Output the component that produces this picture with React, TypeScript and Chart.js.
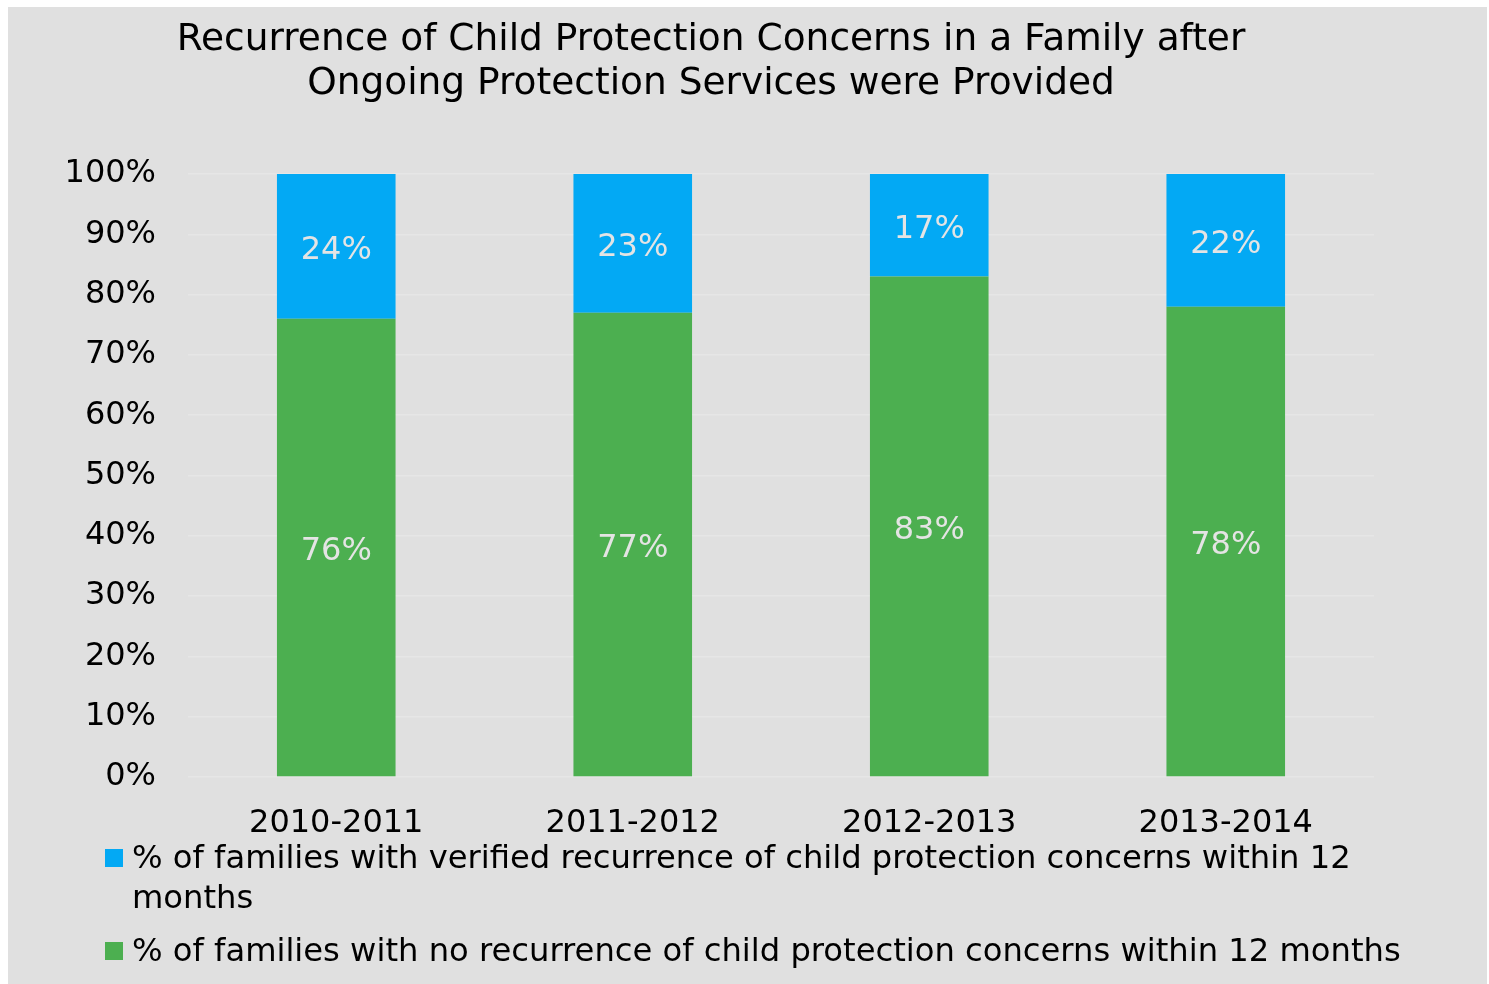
import React, { useEffect, useRef } from "react";
import { Chart, registerables } from "chart.js";

Chart.register(...registerables);

const categories = ["2010-2011", "2011-2012", "2012-2013", "2013-2014"];
const recurrenceValues = [24, 23, 17, 22];
const noRecurrenceValues = [76, 77, 83, 78];
const titleLines = [
  "Recurrence of Child Protection Concerns in a Family after",
  "Ongoing Protection Services were Provided",
];
const recurrenceLabel =
  "% of families with verified recurrence of child protection concerns within 12 months";
const noRecurrenceLabel =
  "% of families with no recurrence of child protection concerns within 12 months";

const BLUE = "#03A9F4";
const GREEN = "#4CAF50";
const BG = "#E0E0E0";
const FONT = '"DejaVu Sans", Verdana, sans-serif';

function wrap(ctx: CanvasRenderingContext2D, text: string, maxWidth: number): string[] {
  const words = text.split(" ");
  const lines: string[] = [];
  let cur = "";
  for (const w of words) {
    const t = cur ? cur + " " + w : w;
    if (ctx.measureText(t).width > maxWidth && cur) {
      lines.push(cur);
      cur = w;
    } else cur = t;
  }
  if (cur) lines.push(cur);
  return lines;
}

const overlayPlugin = {
  id: "overlay",
  afterDatasetsDraw(chart: any) {
    const ctx: CanvasRenderingContext2D = chart.ctx;
    ctx.save();
    ctx.font = `32px ${FONT}`;
    ctx.fillStyle = "#E4E4E4";
    ctx.textAlign = "center";
    ctx.textBaseline = "middle";
    chart.data.datasets.forEach((ds: any, di: number) => {
      const meta = chart.getDatasetMeta(di);
      meta.data.forEach((bar: any, i: number) => {
        const p = bar.getProps(["x", "y", "base"], true);
        ctx.fillText(ds.data[i] + "%", p.x, (p.y + p.base) / 2 + 4);
      });
    });
    ctx.restore();
  },
  afterDraw(chart: any) {
    const ctx: CanvasRenderingContext2D = chart.ctx;
    ctx.save();
    // title
    ctx.font = `37.5px ${FONT}`;
    ctx.fillStyle = "#000";
    ctx.textAlign = "center";
    ctx.textBaseline = "alphabetic";
    ctx.fillText(titleLines[0], 703, 43);
    ctx.fillText(titleLines[1], 703, 87);
    // legend
    ctx.font = `32.2px ${FONT}`;
    ctx.textAlign = "left";
    const items = [
      { text: recurrenceLabel, color: chart.data.datasets[1].backgroundColor, y: 861 },
      { text: noRecurrenceLabel, color: chart.data.datasets[0].backgroundColor, y: 954 },
    ];
    for (const it of items) {
      ctx.fillStyle = it.color;
      ctx.fillRect(97, it.y - 19, 18, 18);
      ctx.fillStyle = "#000";
      const lines = wrap(ctx, it.text, 1300);
      lines.forEach((l, k) => ctx.fillText(l, 124, it.y + k * 40));
    }
    ctx.restore();
  },
};

export default function App() {
  const ref = useRef<HTMLCanvasElement>(null);
  useEffect(() => {
    if (!ref.current) return;
    const chart = new Chart(ref.current, {
      type: "bar",
      data: {
        labels: categories,
        datasets: [
          {
            label: noRecurrenceLabel,
            data: noRecurrenceValues,
            backgroundColor: GREEN,
            categoryPercentage: 1,
            barPercentage: 0.4,
          },
          {
            label: recurrenceLabel,
            data: recurrenceValues,
            backgroundColor: BLUE,
            categoryPercentage: 1,
            barPercentage: 0.4,
          },
        ],
      },
      options: {
        responsive: true,
        maintainAspectRatio: false,
        animation: false,
        layout: { padding: { top: 167, right: 113, bottom: 147, left: 0 } },
        plugins: {
          legend: { display: false },
          title: { display: false },
          tooltip: { enabled: false },
        },
        scales: {
          x: {
            stacked: true,
            grid: { display: false },
            border: { display: false },
            ticks: {
              color: "#000",
              font: { family: FONT, size: 32 },
              padding: 19,
              maxRotation: 0,
            },
            afterFit: (s: any) => {
              s.height = 60;
            },
          },
          y: {
            stacked: true,
            min: 0,
            max: 100,
            grid: { color: "#E6E6E6", drawTicks: false, lineWidth: 1.5 },
            border: { display: false },
            ticks: {
              stepSize: 10,
              color: "#000",
              font: { family: FONT, size: 32 },
              padding: 32,
              callback: (v: any) => v + "%",
            },
            afterFit: (s: any) => {
              s.width = 180;
            },
          },
        },
      },
      plugins: [overlayPlugin],
    });
    return () => chart.destroy();
  }, []);
  return (
    <div
      style={{
        position: "fixed",
        left: 8,
        top: 7,
        width: 1479,
        height: 977,
        background: BG,
      }}
    >
      <canvas ref={ref} />
    </div>
  );
}
